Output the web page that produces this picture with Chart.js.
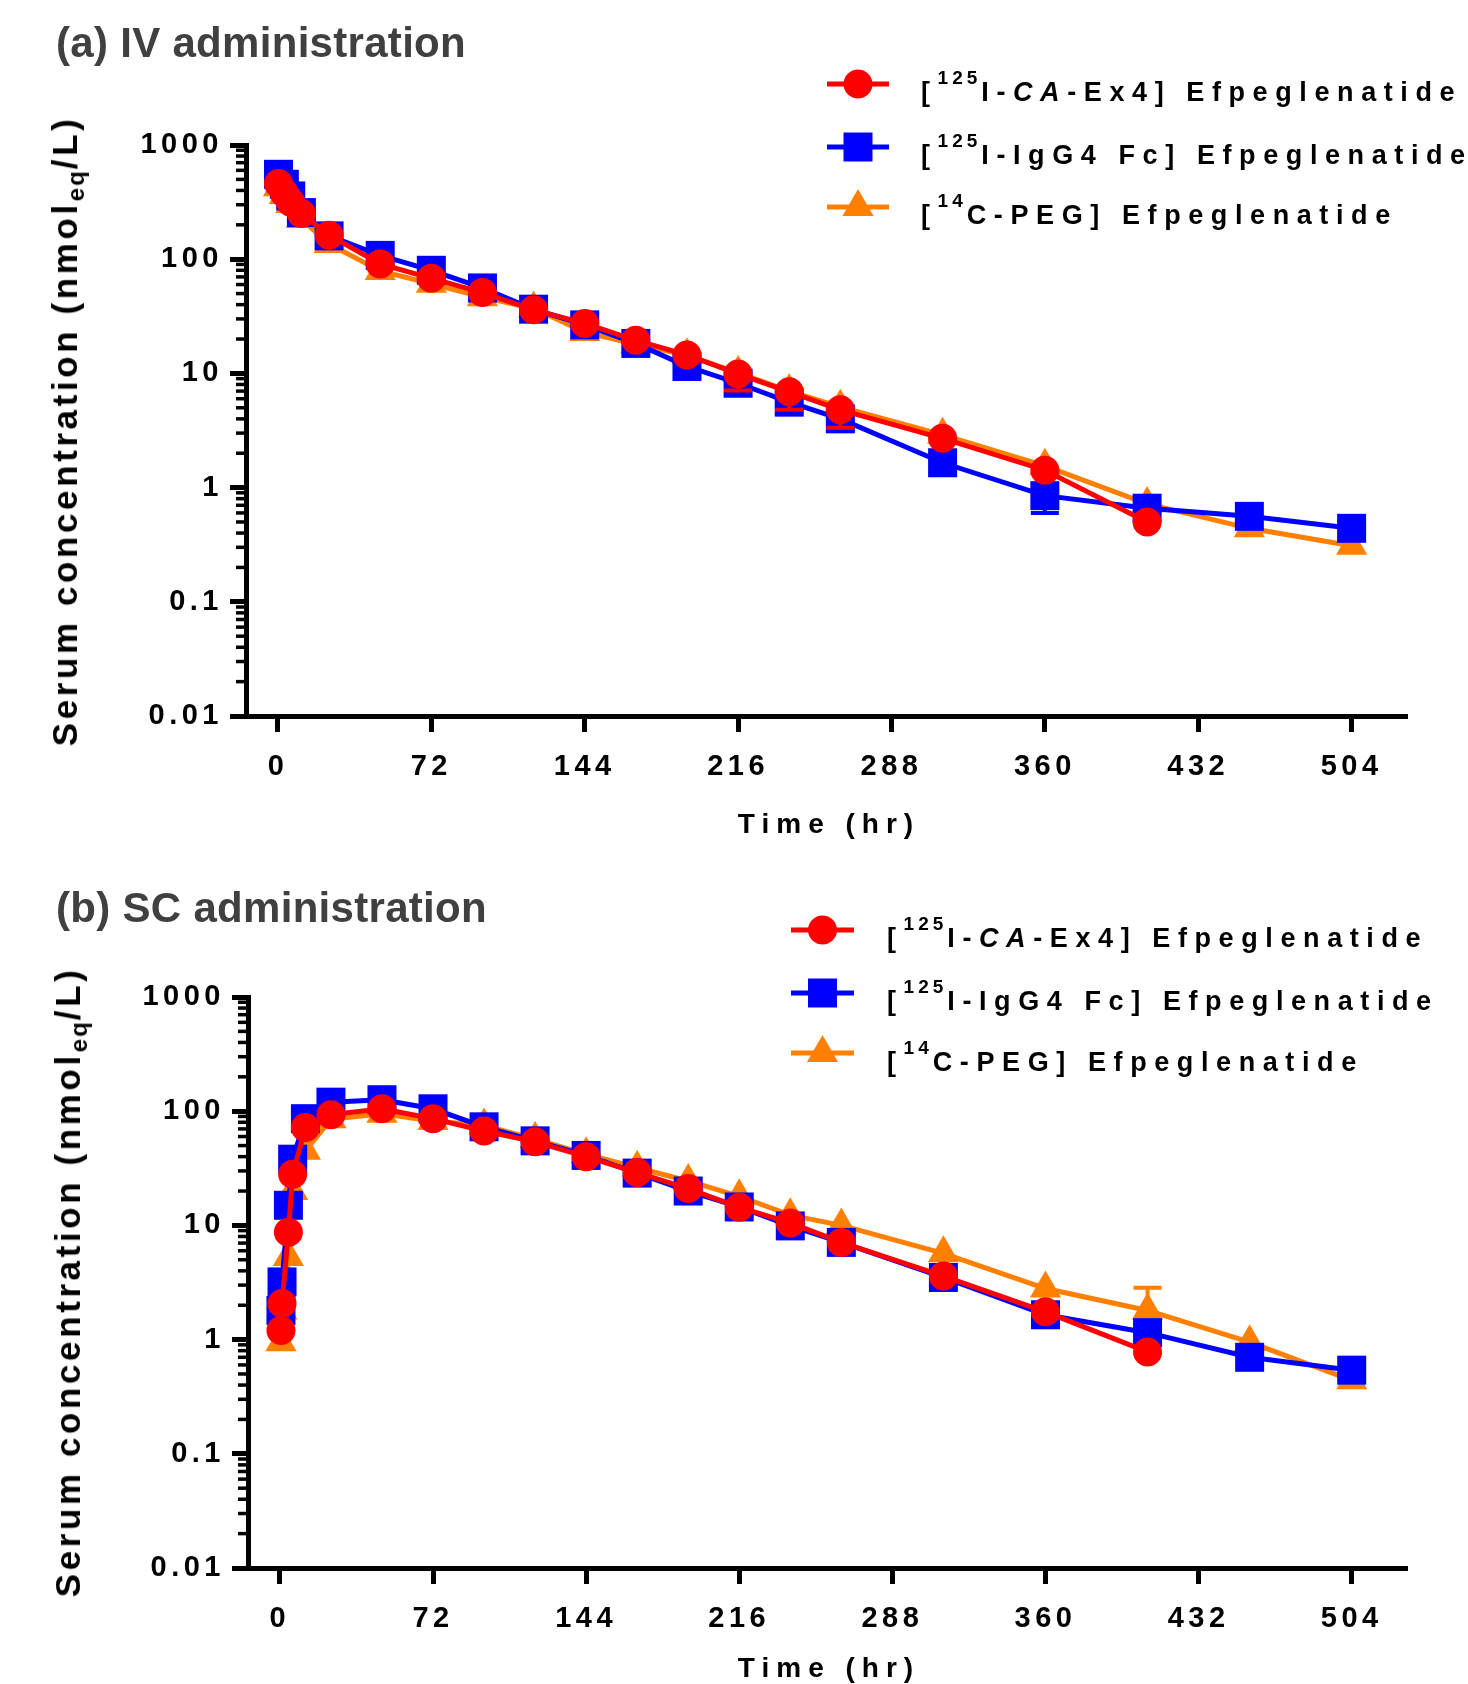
<!DOCTYPE html>
<html>
<head>
<meta charset="utf-8">
<script src="https://cdn.jsdelivr.net/npm/chart.js"></script>
<style>
  html, body { margin: 0; padding: 0; background: #fff; }
  body { width: 1468px; height: 1684px; position: relative; overflow: hidden;
         font-family: "Liberation Sans", Arial, Helvetica, sans-serif; font-weight: bold; color: #000; }
  canvas { position: absolute; }
  .title { position: absolute; left: 56px; font-size: 42px; line-height: 42px; color: #404040; white-space: nowrap;
           letter-spacing: 0.3px; }
  .ytitle { position: absolute; font-size: 35px; line-height: 36px; letter-spacing: 3.6px; white-space: nowrap;
            transform: translate(-50%, -50%) rotate(-90deg); }
  .ytitle sub { font-size: 24px; vertical-align: baseline; position: relative; top: 7px; letter-spacing: 2px; }
  .xtitle { position: absolute; font-size: 28px; line-height: 28px; letter-spacing: 7px; white-space: nowrap;
            transform: translate(-50%, -50%); }
  .legend { position: absolute; font-size: 27px; line-height: 27px; letter-spacing: 7.6px; white-space: nowrap; }
  .legend sup { font-size: 19px; position: relative; top: -17px; vertical-align: baseline; letter-spacing: 4px; }
  .legend i { font-style: italic; }
</style>
</head>
<body>
<canvas id="ivChart" width="1468" height="832" style="left:0;top:0;width:1468px;height:832px"></canvas>
<canvas id="scChart" width="1466" height="832" style="left:2px;top:852px;width:1466px;height:832px"></canvas>

<div class="title" style="top:22px">(a) IV administration</div>
<div class="title" style="top:887px">(b) SC administration</div>

<div class="ytitle" style="left:67px;top:431px">Serum concentration (nmol<sub>eq</sub>/L)</div>
<div class="ytitle" style="left:70px;top:1282px">Serum concentration (nmol<sub>eq</sub>/L)</div>

<div class="xtitle" style="left:829px;top:824px">Time (hr)</div>
<div class="xtitle" style="left:829px;top:1668px">Time (hr)</div>

<div class="legend" style="left:921px;top:79px">[<sup>125</sup>I-<i>CA</i>-Ex4] Efpeglenatide</div>
<div class="legend" style="left:921px;top:142px">[<sup>125</sup>I-IgG4 Fc] Efpeglenatide</div>
<div class="legend" style="left:921px;top:202px">[<sup>14</sup>C-PEG] Efpeglenatide</div>

<div class="legend" style="left:887px;top:925px">[<sup>125</sup>I-<i>CA</i>-Ex4] Efpeglenatide</div>
<div class="legend" style="left:887px;top:988px">[<sup>125</sup>I-IgG4 Fc] Efpeglenatide</div>
<div class="legend" style="left:887px;top:1049px">[<sup>14</sup>C-PEG] Efpeglenatide</div>

<script>
// time points (hr)
const ivTimes = [0.25, 3, 6, 11, 24, 48, 72, 96, 120, 144, 168, 192, 216, 240, 264, 312, 360, 408, 456, 504];
const scTimes = [0.5, 1, 4, 6, 12, 24, 48, 72, 96, 120, 144, 168, 192, 216, 240, 264, 312, 360, 408, 456, 504];

// (a) IV - mean serum concentration (nmol eq/L)
const ivEx4 = [459, 378, 315, 251, 162, 91, 68, 51, 36, 27.4, 19.5, 14.5, 9.9, 6.9, 4.8, 2.7, 1.42, 0.50, null, null];
const ivFc  = [554, 453, 358, 256, 160, 108, 80, 56, 36.5, 26.6, 18.3, 11.5, 8.2, 5.6, 4.0, 1.65, 0.85, 0.66, 0.56, 0.44];
const ivPeg = [427, 365, 304, 225, 136, 79, 61, 46.5, 37, 23, 18, 14.4, 10.1, 7.0, 5.1, 2.9, 1.55, 0.72, 0.44, 0.31];

// (b) SC
const scEx4 = [1.2, 2.07, 8.7, 28, 72, 93, 105, 86, 67, 54, 40, 29, 21, 14.4, 10.5, 7.1, 3.6, 1.75, 0.78, null, null];
const scFc  = [1.8, 3.2, 15, 38, 86, 120, 126, 105, 73, 55, 41, 28.7, 20, 14.5, 9.9, 7.1, 3.5, 1.65, 1.15, 0.70, 0.54];
const scPeg = [0.95, 1.8, 5.3, 20, 45, 85, 95, 82, 75, 57, 42, 32, 24.5, 18, 12.3, 10, 5.7, 2.8, 1.8, 0.95, 0.44];

// visible error bar ends (only where they show outside the markers)
const ivEx4Lo = [null, null, null, null, null, null, null, null, null, null, null, null, 7.1, 4.8, 3.35, null, null, null, null, null];
const ivFcLo  = [null, null, null, null, null, null, null, null, null, null, null, null, null, null, null, null, 0.6, null, null, null];
const scPegHi = [null, null, null, null, null, null, null, null, null, null, null, null, null, null, null, null, null, null, 2.85, null, null];

const xTicks = [0, 72, 144, 216, 288, 360, 432, 504];
const yTicks = [0.01, 0.1, 1, 10, 100, 1000];

const RED = '#FF0000';
const BLUE = '#0000FF';
const ORANGE = '#FF8000';

const tickFont = { family: '"Liberation Sans", Arial, sans-serif', size: 29, weight: 'bold' };

function points(times, values) {
    return times.map((t, i) => ({ x: t, y: values[i] }));
}

function series(times, values, color, style, radius, lo, hi) {
    return {
        data: points(times, values),
        borderColor: color,
        backgroundColor: color,
        borderWidth: 5,
        pointStyle: style,
        pointRadius: radius,
        pointBorderWidth: 0,
        tension: 0,
        clip: false,
        errLo: lo || null,
        errHi: hi || null
    };
}

// draw a marker the same way Chart.js does for these styles
function marker(ctx, style, r, x, y) {
    ctx.beginPath();
    if (style === 'circle') {
        ctx.arc(x, y, r, 0, Math.PI * 2);
    } else if (style === 'rect') {
        const s = Math.SQRT1_2 * r;
        ctx.rect(x - s, y - s, 2 * s, 2 * s);
    } else {
        ctx.moveTo(x, y - r);
        ctx.lineTo(x + r * Math.sin(Math.PI * 2 / 3), y + r / 2);
        ctx.lineTo(x - r * Math.sin(Math.PI * 2 / 3), y + r / 2);
        ctx.closePath();
    }
    ctx.fill();
}

const spacing = {
    id: 'spacing',
    beforeDraw(chart) {
        chart.ctx.letterSpacing = '4.5px';
    }
};

const minorTicks = {
    id: 'minorTicks',
    afterDraw(chart) {
        const y = chart.scales.y;
        const ctx = chart.ctx;
        const left = chart.chartArea.left;
        ctx.save();
        ctx.strokeStyle = '#000';
        ctx.lineWidth = 3.5;
        for (let e = -2; e < 3; e++) {
            for (let k = 2; k < 10; k++) {
                const py = y.getPixelForValue(k * Math.pow(10, e));
                ctx.beginPath();
                ctx.moveTo(left - 2, py);
                ctx.lineTo(left - 10, py);
                ctx.stroke();
            }
        }
        ctx.restore();
    }
};

const errorBars = {
    id: 'errorBars',
    afterDatasetDraw(chart, args) {
        const ds = chart.data.datasets[args.index];
        const y = chart.scales.y;
        const ctx = chart.ctx;
        ctx.save();
        ctx.strokeStyle = ds.borderColor;
        ctx.lineWidth = 4;
        args.meta.data.forEach((pt, i) => {
            [ds.errLo, ds.errHi].forEach(arr => {
                if (!arr || arr[i] == null) return;
                const py = y.getPixelForValue(arr[i]);
                ctx.beginPath();
                ctx.moveTo(pt.x, pt.y);
                ctx.lineTo(pt.x, py);
                ctx.moveTo(pt.x - 14, py);
                ctx.lineTo(pt.x + 14, py);
                ctx.stroke();
            });
        });
        ctx.restore();
    }
};

const legendMarks = {
    id: 'legendMarks',
    afterDraw(chart, args, opts) {
        const ctx = chart.ctx;
        const cx = (opts.x0 + opts.x1) / 2;
        chart.data.datasets.forEach((ds, i) => {
            const y = opts.ys[i];
            ctx.save();
            ctx.strokeStyle = ds.borderColor;
            ctx.lineWidth = 5;
            ctx.beginPath();
            ctx.moveTo(opts.x0, y);
            ctx.lineTo(opts.x1, y);
            ctx.stroke();
            ctx.fillStyle = ds.backgroundColor;
            marker(ctx, ds.pointStyle, ds.pointRadius, cx, y);
            ctx.restore();
        });
    }
};

function makeChart(id, datasets, legendPos) {
    const ctx = document.getElementById(id).getContext('2d');
    return new Chart(ctx, {
        type: 'line',
        data: { datasets: datasets },
        options: {
            responsive: false,
            animation: false,
            devicePixelRatio: 1,
            events: [],
            layout: { padding: { top: 145, right: 61, bottom: 0, left: 0 } },
            scales: {
                x: {
                    type: 'linear',
                    min: -15,
                    max: 530,
                    afterBuildTicks: s => { s.ticks = xTicks.map(v => ({ value: v })); },
                    afterFit: s => { s.height = 116; },
                    ticks: { font: tickFont, color: '#000', padding: 18, maxRotation: 0, autoSkip: false,
                             callback: v => String(v) },
                    grid: { display: true, drawOnChartArea: false, drawTicks: true, tickLength: 16,
                            tickWidth: 5, tickColor: '#000', color: '#000' },
                    border: { display: true, color: '#000', width: 5 }
                },
                y: {
                    type: 'logarithmic',
                    min: 0.01,
                    max: 1000,
                    afterBuildTicks: s => { s.ticks = yTicks.map(v => ({ value: v, major: true })); },
                    afterFit: s => { s.width = 246; },
                    ticks: { font: tickFont, color: '#000', padding: 7, autoSkip: false,
                             callback: v => String(v) },
                    grid: { display: true, drawOnChartArea: false, drawTicks: true, tickLength: 16,
                            tickWidth: 5, tickColor: '#000', color: '#000' },
                    border: { display: true, color: '#000', width: 5 }
                }
            },
            plugins: {
                legend: { display: false },
                tooltip: { enabled: false },
                legendMarks: legendPos
            }
        },
        plugins: [spacing, minorTicks, errorBars, legendMarks]
    });
}

makeChart('ivChart', [
    series(ivTimes, ivEx4, RED, 'circle', 14.5, ivEx4Lo),
    series(ivTimes, ivFc, BLUE, 'rect', 20.5, ivFcLo),
    series(ivTimes, ivPeg, ORANGE, 'triangle', 18)
], { x0: 827, x1: 889, ys: [84, 147, 207] });

makeChart('scChart', [
    series(scTimes, scEx4, RED, 'circle', 14.5),
    series(scTimes, scFc, BLUE, 'rect', 20.5),
    series(scTimes, scPeg, ORANGE, 'triangle', 18, null, scPegHi)
], { x0: 789, x1: 852, ys: [78, 141, 201] });
</script>
</body>
</html>
